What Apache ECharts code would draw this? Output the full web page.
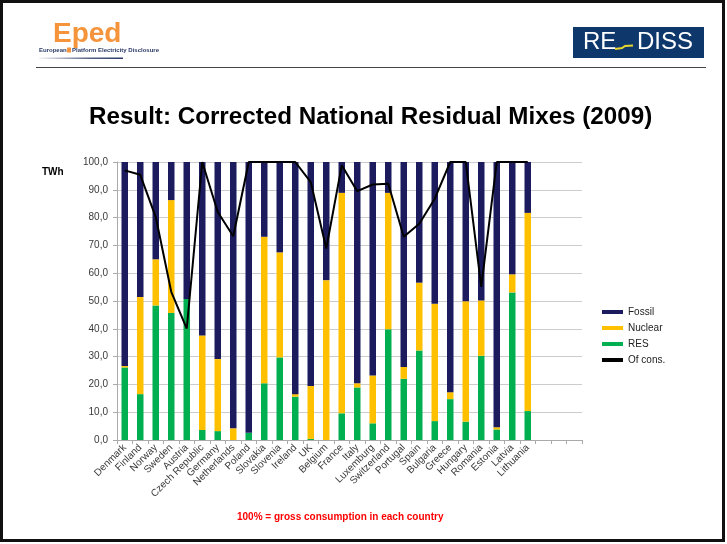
<!DOCTYPE html>
<html>
<head>
<meta charset="utf-8">
<script src="https://cdn.jsdelivr.net/npm/echarts@6/dist/echarts.min.js"></script>
<style>
  html, body { margin: 0; padding: 0; background: #fff; }
  #main { width: 727px; height: 544px; }
</style>
</head>
<body>
<div id="main"></div>
<script>
// countries (3 empty slots at the end, as in the slide)
const countries = [
  "Denmark", "Finland", "Norway", "Sweden", "Austria", "Czech Republic",
  "Germany", "Netherlands", "Poland", "Slovakia", "Slovenia", "Ireland",
  "UK", "Belgium", "France", "Italy", "Luxemburg", "Switzerland",
  "Portugal", "Spain", "Bulgaria", "Greece", "Hungary", "Romania",
  "Estonia", "Latvia", "Lithuania", "", "", ""
];

const res = [26.1, 16.5, 48.4, 45.7, 50.7, 3.6, 3.2, 0, 2.6, 20.4, 29.7, 15.6,
  0.4, 0, 9.6, 18.9, 6.0, 39.8, 22.0, 32.2, 6.8, 14.7, 6.6, 30.3, 3.8, 53.1, 10.4];
const nuclear = [0.5, 34.9, 16.6, 40.6, 0, 34.0, 25.9, 4.2, 0, 52.7, 37.8, 0.9,
  19.0, 57.5, 79.3, 1.5, 17.2, 49.1, 4.3, 24.4, 42.2, 2.5, 43.3, 19.9, 0.8, 6.5, 71.3];
const fossil = [73.4, 48.6, 35.0, 13.7, 49.3, 62.4, 70.9, 95.8, 97.4, 26.9, 32.5, 83.5,
  80.6, 42.5, 11.1, 79.6, 76.8, 11.1, 73.7, 43.4, 51.0, 82.8, 50.1, 49.8, 95.4, 40.4, 18.3];
const ofCons = [97.0, 95.4, 80.2, 53.3, 40.1, 100, 82.0, 73.3, 100, 100, 100, 100,
  92.8, 68.9, 98.8, 89.5, 91.9, 92.2, 73.1, 77.8, 86.8, 100, 100, 55.1, 100, 100, 100];

const FONT = "Liberation Sans, Arial, sans-serif";

var chartDom = document.getElementById("main");
var myChart = echarts.init(chartDom);
var option;

option = {
  backgroundColor: "#fff",
  animation: false,
  textStyle: { fontFamily: FONT },
  graphic: [
    // slide frame
    { type: "rect", shape: { x: 1.5, y: 1.5, width: 722, height: 539 },
      style: { fill: null, stroke: "#111", lineWidth: 3 } },
    // Eped logo
    { type: "text", left: 53, top: 20,
      style: { text: "Eped", font: "bold 28px " + FONT, fill: "#F5943A" } },
    { type: "text", left: 39, top: 47,
      style: { text: "European", font: "bold 6px " + FONT, fill: "#2B3A67" } },
    { type: "rect", shape: { x: 67, y: 47.5, width: 4, height: 5 },
      style: { fill: "#F5943A" } },
    { type: "text", left: 72, top: 47,
      style: { text: "Platform Electricity Disclosure", font: "bold 6px " + FONT, fill: "#2B3A67" } },
    { type: "rect", shape: { x: 39, y: 57.5, width: 84, height: 1.5 },
      style: { fill: new echarts.graphic.LinearGradient(0, 0, 1, 0, [
        { offset: 0, color: "rgba(43,58,103,0.05)" },
        { offset: 0.6, color: "rgba(43,58,103,0.8)" },
        { offset: 1, color: "rgba(43,58,103,1)" }]) } },
    // RE-DISS logo
    { type: "rect", shape: { x: 573, y: 27, width: 131, height: 31 },
      style: { fill: "#0E386B" } },
    { type: "text", left: 583, top: 30,
      style: { text: "RE", font: "24px " + FONT, fill: "#fff" } },
    { type: "text", left: 637, top: 30,
      style: { text: "DISS", font: "24px " + FONT, fill: "#fff" } },
    { type: "polyline", shape: { points: [[615, 49], [622, 48], [625, 46], [633, 45.5]] },
      style: { stroke: "#E9D52E", lineWidth: 2, fill: null } },
    // header rule
    { type: "line", shape: { x1: 36, y1: 67.5, x2: 706, y2: 67.5 },
      style: { stroke: "#444", lineWidth: 1 } },
    // title
    { type: "text", left: 89, top: 105,
      style: { text: "Result: Corrected National Residual Mixes (2009)",
        font: "bold 24.2px " + FONT, fill: "#000" } },
    // unit
    { type: "text", left: 42, top: 167,
      style: { text: "TWh", font: "bold 10px " + FONT, fill: "#000" } },
    // note
    { type: "text", left: 237, top: 512,
      style: { text: "100% = gross consumption in each country",
        font: "bold 10px " + FONT, fill: "#F00" } }
  ],
  legend: {
    orient: "vertical",
    left: 597,
    top: 302,
    itemWidth: 21,
    itemHeight: 4,
    itemGap: 6,
    icon: "rect",
    textStyle: { fontSize: 10, color: "#222", fontFamily: FONT },
    data: [
      { name: "Fossil", icon: "rect" },
      { name: "Nuclear", icon: "rect" },
      { name: "RES", icon: "rect" },
      { name: "Of cons.", icon: "rect" }
    ]
  },
  grid: { left: 117, right: 145, top: 162, bottom: 104 },
  xAxis: {
    type: "category",
    data: countries,
    axisLine: { lineStyle: { color: "#aaa" } },
    axisTick: { show: true, lineStyle: { color: "#aaa" }, length: 4 },
    axisLabel: { interval: 0, rotate: 45, fontSize: 10, color: "#3a3a3a", margin: 6 }
  },
  yAxis: {
    type: "value",
    min: 0,
    max: 100,
    interval: 10,
    axisLine: { show: true, lineStyle: { color: "#aaa" } },
    axisTick: { show: true, length: 4, lineStyle: { color: "#aaa" } },
    splitLine: { lineStyle: { color: "#ccc" } },
    axisLabel: {
      fontSize: 10, color: "#3a3a3a", margin: 9,
      formatter: (v) => v.toFixed(1).replace(".", ",")
    }
  },
  series: [
    { name: "RES", type: "bar", stack: "mix", data: res, barWidth: 6.5,
      itemStyle: { color: "#00B050" } },
    { name: "Nuclear", type: "bar", stack: "mix", data: nuclear, barWidth: 6.5,
      itemStyle: { color: "#FFC000" } },
    { name: "Fossil", type: "bar", stack: "mix", data: fossil, barWidth: 6.5,
      itemStyle: { color: "#1B1B5E" } },
    { name: "Of cons.", type: "line", data: ofCons, symbol: "none",
      lineStyle: { color: "#000", width: 2 }, itemStyle: { color: "#000" } }
  ]
};

option && myChart.setOption(option);
</script>
</body>
</html>
